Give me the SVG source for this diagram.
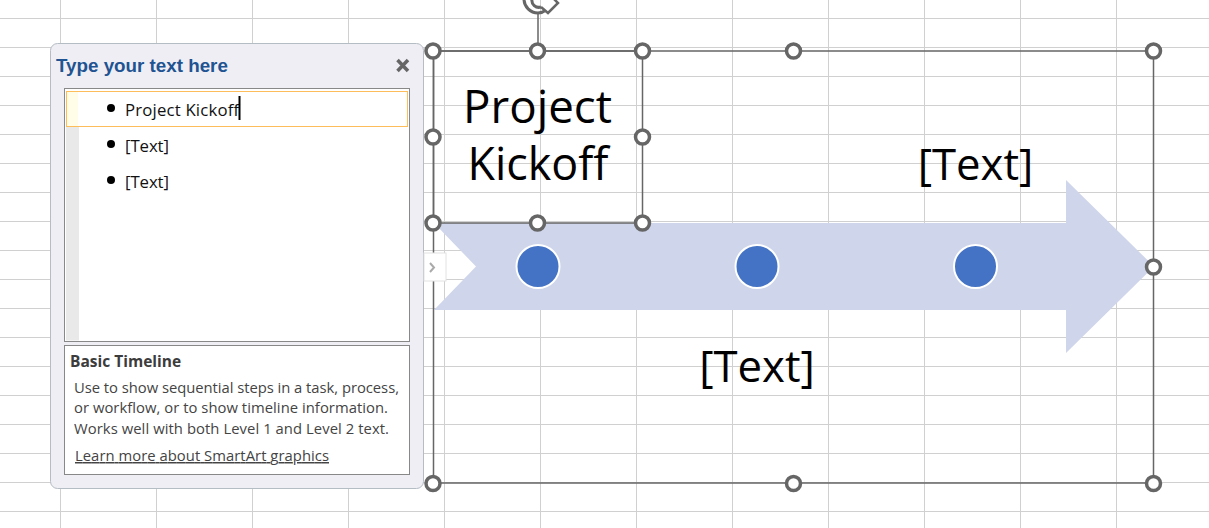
<svg xmlns="http://www.w3.org/2000/svg" width="1209" height="528" viewBox="0 0 1209 528">
<defs>
<pattern id="grid" width="96" height="29" patternUnits="userSpaceOnUse" x="60" y="18">
<path d="M0.5 0V29M0 0.5H96" fill="none" stroke="#d0d0d0" stroke-width="1"/>
</pattern>
</defs>
<style>
.h{fill:#fff;stroke:#666;stroke-width:3.5}
.sans{font-family:"Open Sans","Noto Sans",sans-serif}
.big{fill:#000;text-anchor:middle;font-family:"Open Sans","Noto Sans",sans-serif}
.item{font-size:16.800px;fill:#111;font-family:"Open Sans","Noto Sans",sans-serif}
.desc{font-size:14.800px;fill:#444;font-family:"Open Sans","Noto Sans",sans-serif}
.dot{fill:#4472c4;stroke:#fff;stroke-width:2}
.bul{fill:#000}
</style>
<rect width="1209" height="528" fill="#fff"/>
<rect width="1209" height="528" fill="url(#grid)"/>

<g id="rotate-handle">
<path d="M538 44V14" stroke="#666" stroke-width="1.500" fill="none"/>
<path d="M524 -1A14 14 0 0 0 538 13A14 14 0 0 0 546 10" fill="none" stroke="#666" stroke-width="3"/>
<path d="M532 -1A7 7 0 0 0 541 7" fill="none" stroke="#666" stroke-width="3"/>
<path d="M541 7L548 13L558 3L553 -2" fill="#fff" stroke="#666" stroke-width="2.500"/>
</g>

<g id="timeline-arrow">
<path d="M434 223H1066V180L1154 266.500L1066 353V310H434L476 266.500Z" fill="#cfd5ea"/>
</g>
<g id="selection-frame">
<rect x="433.500" y="51" width="720" height="432" fill="none" stroke="#666" stroke-width="1.500"/>
</g>
<g id="text-box">
<rect x="433.500" y="51" width="209" height="172" fill="none" stroke="#666" stroke-width="1.500"/>
<text class="big" font-size="45.700" x="537.500" y="123">Project</text>
<text class="big" font-size="44.800" x="538" y="180">Kickoff</text>
</g>
<g id="label-top"><text class="big" font-size="43.700" x="975.500" y="179.500">[Text]</text></g>
<g id="label-bottom"><text class="big" font-size="43.700" x="757" y="381.500">[Text]</text></g>
<g id="dot-1"><circle class="dot" cx="538" cy="266.500" r="21.500"/></g>
<g id="dot-2"><circle class="dot" cx="757" cy="266.500" r="21.500"/></g>
<g id="dot-3"><circle class="dot" cx="975.500" cy="266.500" r="21.500"/></g>

<g id="handles">
<circle class="h" cx="433" cy="51" r="7"/>
<circle class="h" cx="537.500" cy="51" r="7"/>
<circle class="h" cx="642.500" cy="51" r="7"/>
<circle class="h" cx="793.500" cy="51" r="7"/>
<circle class="h" cx="1153.500" cy="51" r="7"/>
<circle class="h" cx="433" cy="137" r="7"/>
<circle class="h" cx="642.500" cy="137" r="7"/>
<circle class="h" cx="433" cy="223" r="7"/>
<circle class="h" cx="537.500" cy="223" r="7"/>
<circle class="h" cx="642.500" cy="223" r="7"/>
<circle class="h" cx="1153.500" cy="267" r="7"/>
<circle class="h" cx="433" cy="483.500" r="7"/>
<circle class="h" cx="793.500" cy="483.500" r="7"/>
<circle class="h" cx="1153.500" cy="483.500" r="7"/>
</g>

<g id="text-pane">
<rect x="50.500" y="43.500" width="373" height="445" rx="7" fill="#eeeef4" stroke="#b4bcc4" stroke-width="1"/>
<text x="56" y="72" font-family="'Liberation Sans',Arial,sans-serif" font-weight="700" font-size="18.800" fill="#1f5391">Type your text here</text>
<path d="M397.500 60L408 71M408 60L397.500 71" stroke="#666" stroke-width="3.500" fill="none"/>
<rect x="64.500" y="88.500" width="345" height="253" fill="#fff" stroke="#888" stroke-width="1"/>
<rect x="66" y="127" width="13" height="213.500" fill="#e9e9e9"/>
<rect x="66.500" y="91.500" width="341" height="35" fill="#fff" stroke="#fdbd5a" stroke-width="1"/>
<rect x="67" y="92" width="11" height="34" fill="#fffde8"/>
<circle class="bul" cx="111" cy="108" r="4"/>
<circle class="bul" cx="111" cy="144" r="4"/>
<circle class="bul" cx="111" cy="180" r="4"/>
<text class="item" x="125" y="116" textLength="114">Project Kickoff</text>
<text class="item" x="125" y="152" textLength="44">[Text]</text>
<text class="item" x="125" y="188" textLength="44">[Text]</text>
<rect x="238.500" y="96" width="2" height="24" fill="#000"/>
<rect x="64.500" y="345.500" width="345" height="129" fill="#fff" stroke="#888" stroke-width="1"/>
<text x="70" y="367" font-size="15.500" font-weight="700" fill="#3c3c3c" class="sans">Basic Timeline</text>
<text class="desc" x="74" y="393" textLength="325">Use to show sequential steps in a task, process,</text>
<text class="desc" x="74" y="413" textLength="314">or workflow, or to show timeline information.</text>
<text class="desc" x="74" y="434" textLength="315">Works well with both Level 1 and Level 2 text.</text>
<text class="desc" x="75" y="461" text-decoration="underline" textLength="254">Learn more about SmartArt graphics</text>
</g>
<g id="pane-toggle">
<rect x="424" y="253" width="22" height="28" fill="#fff" stroke="#e2e2e2" stroke-width="1"/>
<path d="M430 263L434 267.500L430 272" fill="none" stroke="#aaa" stroke-width="2"/>
</g>
</svg>
